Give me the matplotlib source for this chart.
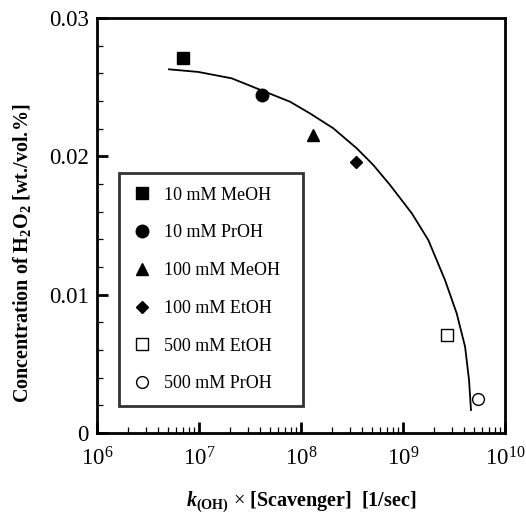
import numpy as np
import matplotlib
matplotlib.use("Agg")
import matplotlib.pyplot as plt
from matplotlib.ticker import FixedLocator, NullFormatter, LogLocator

# ---- data ----
labels = ["10 mM MeOH", "10 mM PrOH", "100 mM MeOH", "100 mM EtOH", "500 mM EtOH", "500 mM PrOH"]
x_vals = [7.0e6, 4.1e7, 1.3e8, 3.5e8, 2.7e9, 5.4e9]
y_vals = [0.0271, 0.0244, 0.02154, 0.0196, 0.00708, 0.00246]
markers = ["s", "o", "^", "D", "s", "o"]
filled = [True, True, True, True, False, False]
msizes = [9, 9, 8, 6.5, 9, 8.5]

curve_x = [5.08e6, 9.84e6, 2.09e7, 4.44e7, 7.80e7, 1.22e8, 2.07e8, 3.52e8, 5.12e8,
           7.46e8, 1.22e9, 1.77e9, 2.58e9, 3.36e9, 4.06e9, 4.44e9, 4.64e9]
curve_y = [0.02629, 0.02610, 0.02564, 0.02467, 0.02395, 0.02311, 0.02203, 0.02058, 0.01937,
           0.01793, 0.01588, 0.01395, 0.01106, 0.00865, 0.00624, 0.00383, 0.00166]

yticks = [0, 0.01, 0.02, 0.03]
ytick_labels = ["0", "0.01", "0.02", "0.03"]

plt.rcParams['font.family'] = ['Liberation Serif', 'DejaVu Serif']
plt.rcParams['mathtext.fontset'] = 'custom'
plt.rcParams['mathtext.rm'] = 'Liberation Serif'
plt.rcParams['mathtext.bf'] = 'Liberation Serif:bold'
plt.rcParams['mathtext.it'] = 'Liberation Serif:italic'
plt.rcParams['mathtext.bfit'] = 'Liberation Serif:bold:italic'

fig = plt.figure(figsize=(5.26, 5.14), dpi=100)
ax = fig.add_axes([97/526, 1 - 433/514, (505-97)/526, (433-18)/514])

ax.plot(curve_x, curve_y, color="black", lw=1.3, solid_joinstyle="round")

for x, y, m, f, s, lab in zip(x_vals, y_vals, markers, filled, msizes, labels):
    ax.plot([x], [y], linestyle="none", marker=m, markersize=s,
             markerfacecolor="black" if f else "white",
             markeredgecolor="black", markeredgewidth=1.0, label=lab)

ax.set_xscale("log")
ax.set_xlim(1e6, 1e10)
ax.set_ylim(0, 0.03)
ax.set_yticks(yticks)
ax.set_yticklabels(ytick_labels)
ax.yaxis.set_minor_locator(FixedLocator(np.arange(0, 0.0301, 0.002)))
ax.xaxis.set_minor_locator(LogLocator(base=10, subs=np.arange(2, 10), numticks=20))
ax.xaxis.set_minor_formatter(NullFormatter())

ax.tick_params(axis="both", which="major", direction="in", length=8, width=2,
               labelsize=16.5, pad=6)
ax.tick_params(axis="both", which="minor", direction="in", length=4, width=0.9)
ax.tick_params(axis="x", which="major", pad=10)
for sp in ax.spines.values():
    sp.set_linewidth(2)

ax.set_ylabel(r"Concentration of H$_{\mathbf{2}}$O$_{\mathbf{2}}$ [wt./vol.%]",
              fontsize=14.5, fontweight="bold")
ax.yaxis.set_label_coords(-0.158, 0.434)
ax.set_xlabel(r"$\boldsymbol{k}_{\mathbf{(OH)}}$ $\times$ [Scavenger]  [1/sec]",
              fontsize=14.5, fontweight="bold")
ax.xaxis.set_label_coords(0.5, -0.135)

x0 = (119-97)/408
y1 = (433-173)/415
leg = ax.legend(loc="upper left", bbox_to_anchor=(x0, y1 - 0.6, (303-119)/408, 0.6),
                mode="expand",
                frameon=True, fancybox=False, fontsize=13, handletextpad=0.75,
                labelspacing=1.15, borderpad=0.75, handlelength=1.0,
                borderaxespad=0)
leg.get_frame().set_edgecolor("black")
leg.get_frame().set_linewidth(2)

fig.savefig("out.png", dpi=100)
